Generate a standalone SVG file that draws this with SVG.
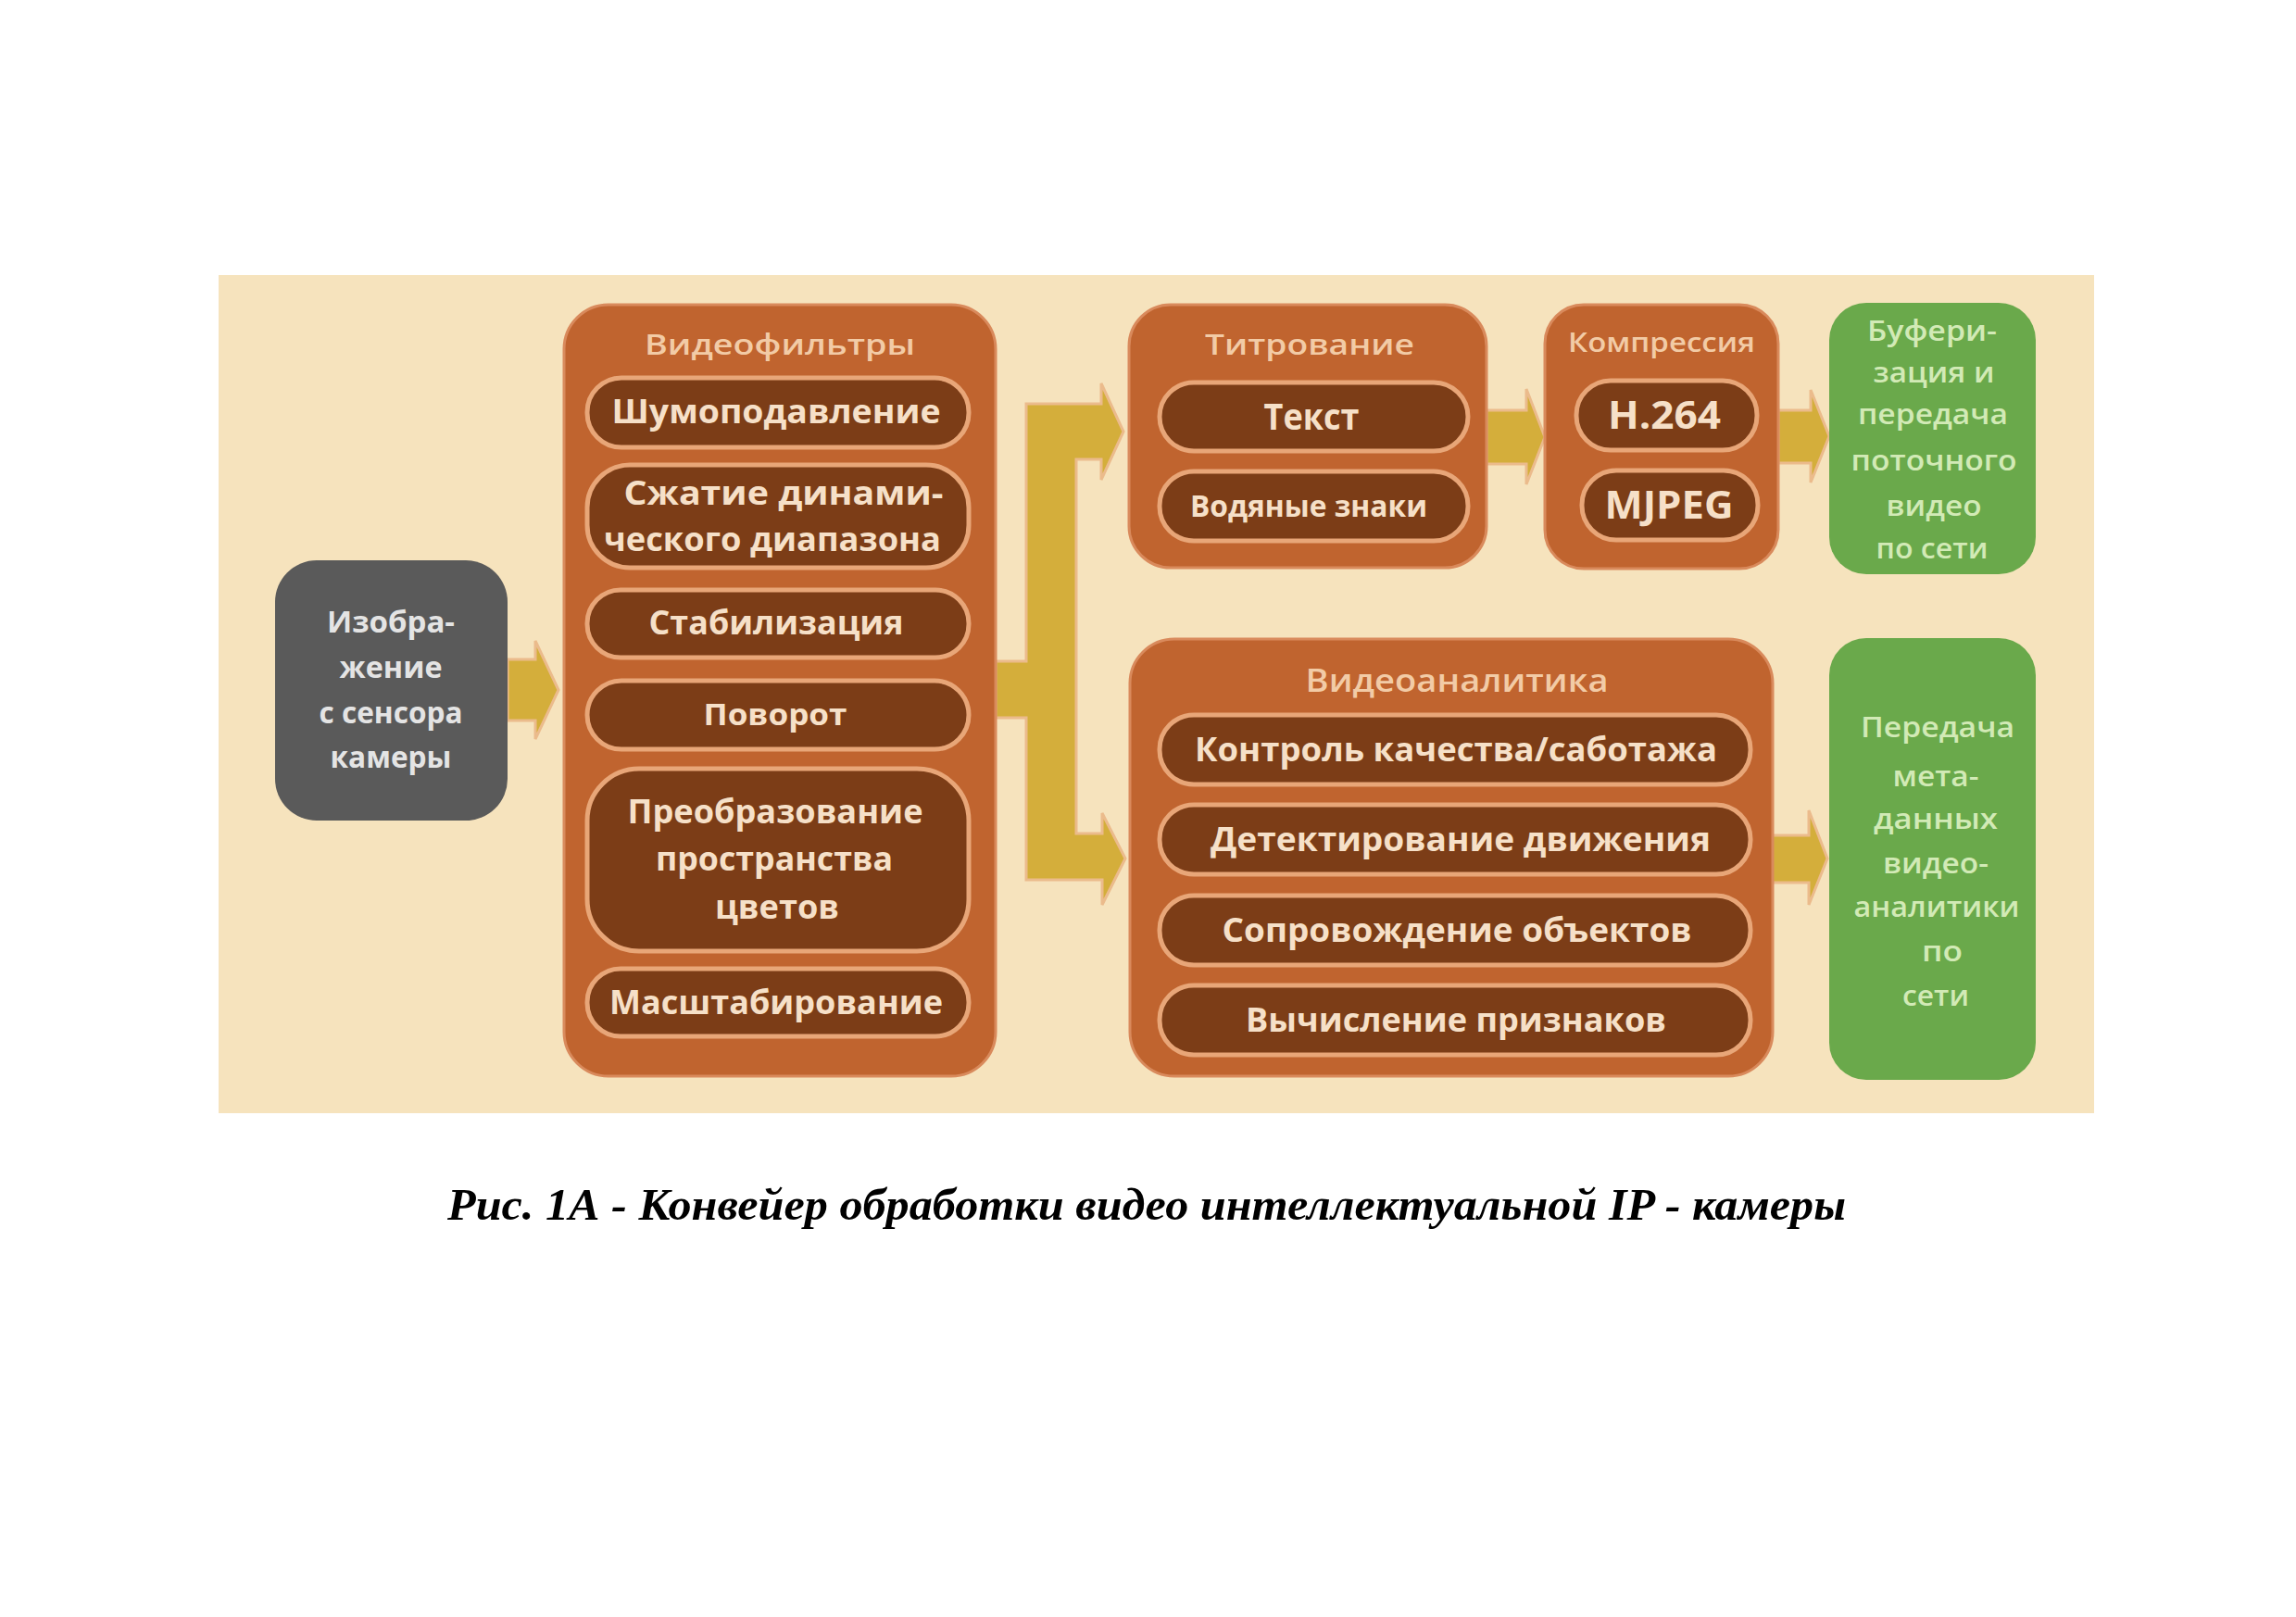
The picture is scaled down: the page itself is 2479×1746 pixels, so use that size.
<svg xmlns="http://www.w3.org/2000/svg" width="2479" height="1746" viewBox="0 0 2479 1746">
<style>
.box{fill:#c0642f;stroke:#d98a5c;stroke-width:3}
.pill{fill:#7c3d17;stroke:#e8a678;stroke-width:5}
.gray{fill:#5a5a5a}
.green{fill:#6aa94b}
.t{font-family:"Open Sans","Noto Sans","DejaVu Sans",sans-serif;font-weight:600;text-anchor:middle}
.pt{fill:#f6e0c8;font-size:36px;font-weight:700}
.tt{fill:#f2cba6;font-size:30px}
.gt{fill:#e4e4e4;font-size:32px;font-weight:700}
.grt{fill:#d2eab6;font-size:30px}
.arr{fill:#d4ae3b;stroke:#ebbb8c;stroke-width:3;stroke-linejoin:miter}
.cap{font-family:"Liberation Serif","Times New Roman",serif;font-weight:bold;font-style:italic;font-size:48px;fill:#000}
</style>
<rect x="0" y="0" width="2479" height="1746" fill="#ffffff"/>
<rect x="236" y="297" width="2025" height="905" fill="#f6e3bd"/>

<g id="connectors">
<polygon class="arr" points="548,712 578,712 578,692 603,745 578,798 578,778 548,778"/>
<polygon class="arr" points="1075,714 1108,714 1108,436 1189,436 1189,414 1213,466 1189,518 1189,496 1162,496 1162,900 1190,900 1190,878 1215,927 1190,977 1190,950 1108,950 1108,775 1075,775"/>
<polygon class="arr" points="1605,443 1648,443 1648,420 1668,472 1648,523 1648,501 1605,501"/>
<polygon class="arr" points="1920,443 1955,443 1955,421 1975,471 1955,521 1955,500 1920,500"/>
<polygon class="arr" points="1913,902 1953,902 1953,875 1973,927 1953,977 1953,953 1913,953"/>
</g>

<g id="sensor">
<rect class="gray" x="297" y="605" width="251" height="281" rx="45"/>
<text class="t gt" x="422" y="683" textLength="138" lengthAdjust="spacingAndGlyphs">Изобра-</text>
<text class="t gt" x="422" y="732" textLength="111" lengthAdjust="spacingAndGlyphs">жение</text>
<text class="t gt" x="422" y="781" textLength="155" lengthAdjust="spacingAndGlyphs">с сенсора</text>
<text class="t gt" x="422" y="829" textLength="131" lengthAdjust="spacingAndGlyphs">камеры</text>
</g>

<g id="videofilters">
<rect class="box" x="609" y="329" width="466" height="833" rx="48"/>
<text class="t tt" x="842" y="383" textLength="292" lengthAdjust="spacingAndGlyphs">Видеофильтры</text>
<rect class="pill" x="634" y="408" width="412" height="75" rx="37"/>
<text class="t pt" x="838" y="457" textLength="355" lengthAdjust="spacingAndGlyphs">Шумоподавление</text>
<rect class="pill" x="634" y="502" width="412" height="111" rx="46"/>
<text class="t pt" x="846" y="545" textLength="345" lengthAdjust="spacingAndGlyphs">Сжатие динами-</text>
<text class="t pt" x="834" y="595" textLength="364" lengthAdjust="spacingAndGlyphs">ческого диапазона</text>
<rect class="pill" x="634" y="637" width="412" height="73" rx="36"/>
<text class="t pt" x="838" y="685" textLength="275" lengthAdjust="spacingAndGlyphs">Стабилизация</text>
<rect class="pill" x="634" y="735" width="412" height="74" rx="37"/>
<text class="t pt" x="837" y="783" textLength="155" lengthAdjust="spacingAndGlyphs" style="font-size:32px">Поворот</text>
<rect class="pill" x="634" y="830" width="412" height="197" rx="56"/>
<text class="t pt" x="837" y="889" textLength="319" lengthAdjust="spacingAndGlyphs">Преобразование</text>
<text class="t pt" x="836" y="940" textLength="256" lengthAdjust="spacingAndGlyphs">пространства</text>
<text class="t pt" x="839" y="992" textLength="134" lengthAdjust="spacingAndGlyphs">цветов</text>
<rect class="pill" x="634" y="1046" width="412" height="73" rx="36"/>
<text class="t pt" x="838" y="1095" textLength="360" lengthAdjust="spacingAndGlyphs">Масштабирование</text>
</g>

<g id="titling">
<rect class="box" x="1219" y="329" width="386" height="284" rx="45"/>
<text class="t tt" x="1414" y="383" textLength="226" lengthAdjust="spacingAndGlyphs">Титрование</text>
<rect class="pill" x="1252" y="413" width="333" height="74" rx="37"/>
<text class="t pt" x="1416" y="464" textLength="103" lengthAdjust="spacingAndGlyphs" style="font-size:40px">Текст</text>
<rect class="pill" x="1252" y="509" width="333" height="75" rx="37"/>
<text class="t pt" x="1413" y="558" textLength="256" lengthAdjust="spacingAndGlyphs" style="font-size:32px">Водяные знаки</text>
</g>

<g id="compression">
<rect class="box" x="1668" y="329" width="252" height="285" rx="42"/>
<text class="t tt" x="1794" y="380" textLength="202" lengthAdjust="spacingAndGlyphs" style="font-size:28px">Компрессия</text>
<rect class="pill" x="1702" y="411" width="195" height="75" rx="37"/>
<text class="t pt" x="1797" y="463" textLength="122" lengthAdjust="spacingAndGlyphs" style="font-size:42px">H.264</text>
<rect class="pill" x="1708" y="508" width="190" height="75" rx="37"/>
<text class="t pt" x="1802" y="560" textLength="139" lengthAdjust="spacingAndGlyphs" style="font-size:42px">MJPEG</text>
</g>

<g id="streaming">
<rect class="green" x="1975" y="327" width="223" height="293" rx="40"/>
<text class="t grt" x="2086" y="368" textLength="140" lengthAdjust="spacingAndGlyphs">Буфери-</text>
<text class="t grt" x="2088" y="413" textLength="131" lengthAdjust="spacingAndGlyphs">зация и</text>
<text class="t grt" x="2087" y="458" textLength="162" lengthAdjust="spacingAndGlyphs">передача</text>
<text class="t grt" x="2088" y="508" textLength="179" lengthAdjust="spacingAndGlyphs">поточного</text>
<text class="t grt" x="2088" y="557" textLength="103" lengthAdjust="spacingAndGlyphs">видео</text>
<text class="t grt" x="2086" y="603" textLength="121" lengthAdjust="spacingAndGlyphs">по сети</text>
</g>

<g id="videoanalytics">
<rect class="box" x="1220" y="690" width="694" height="472" rx="48"/>
<text class="t tt" x="1573" y="747" textLength="327" lengthAdjust="spacingAndGlyphs" style="font-size:34px">Видеоаналитика</text>
<rect class="pill" x="1252" y="772" width="638" height="75" rx="37"/>
<text class="t pt" x="1572" y="822" textLength="564" lengthAdjust="spacingAndGlyphs">Контроль качества/саботажа</text>
<rect class="pill" x="1252" y="869" width="638" height="75" rx="37"/>
<text class="t pt" x="1577" y="919" textLength="540" lengthAdjust="spacingAndGlyphs">Детектирование движения</text>
<rect class="pill" x="1252" y="967" width="638" height="75" rx="37"/>
<text class="t pt" x="1573" y="1017" textLength="507" lengthAdjust="spacingAndGlyphs">Сопровождение объектов</text>
<rect class="pill" x="1252" y="1064" width="638" height="75" rx="37"/>
<text class="t pt" x="1572" y="1114" textLength="454" lengthAdjust="spacingAndGlyphs">Вычисление признаков</text>
</g>

<g id="metadata">
<rect class="green" x="1975" y="689" width="223" height="477" rx="40"/>
<text class="t grt" x="2092" y="796" textLength="166" lengthAdjust="spacingAndGlyphs">Передача</text>
<text class="t grt" x="2090" y="849" textLength="93" lengthAdjust="spacingAndGlyphs">мета-</text>
<text class="t grt" x="2090" y="895" textLength="134" lengthAdjust="spacingAndGlyphs">данных</text>
<text class="t grt" x="2090" y="943" textLength="114" lengthAdjust="spacingAndGlyphs">видео-</text>
<text class="t grt" x="2091" y="990" textLength="179" lengthAdjust="spacingAndGlyphs">аналитики</text>
<text class="t grt" x="2097" y="1038" textLength="44" lengthAdjust="spacingAndGlyphs">по</text>
<text class="t grt" x="2090" y="1086" textLength="72" lengthAdjust="spacingAndGlyphs">сети</text>
</g>

<text class="cap" x="483" y="1317" textLength="1510" lengthAdjust="spacingAndGlyphs">Рис. 1А - Конвейер обработки видео интеллектуальной IP - камеры</text>
</svg>
